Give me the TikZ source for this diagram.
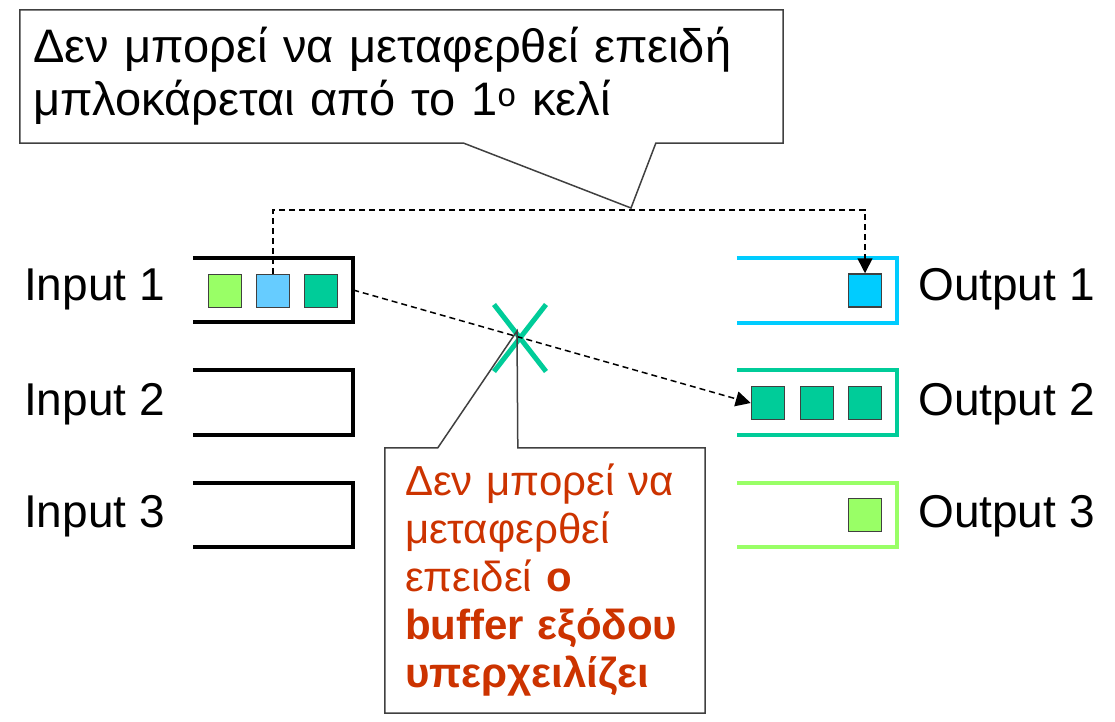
\documentclass[tikz,border=0pt]{standalone}
\usepackage{fontspec}
\setmainfont{Liberation Sans}
\usepackage{tikz}
\usetikzlibrary{arrows.meta,positioning,calc,shapes.misc}
\definecolor{inkgreen}{HTML}{99FF66}
\definecolor{inkblue}{HTML}{66CCFF}
\definecolor{inkteal}{HTML}{00CC99}
\definecolor{inkcyan}{HTML}{00CCFF}
\definecolor{inkred}{HTML}{CC3300}
\definecolor{edgegray}{HTML}{404040}
\newcommand{\rimof}[2]{\draw[rim=#2] (#1.north west) -- (#1.north east) -- (#1.south east) -- (#1.south west);}
\tikzset{
  buf/.style={rectangle, minimum width=160pt, minimum height=64pt, inner sep=0pt},
  rim/.style={line width=4pt, draw=#1},
  cell/.style={rectangle, draw=black!75, line width=1.5pt, fill=#1, minimum size=33pt, inner sep=0pt},
  lbl/.style={inner sep=0pt, font=\fontsize{46}{53}\selectfont},
  noteline/.style={draw=edgegray, line width=1.5pt},
  dasharr/.style={-{Triangle[length=15pt,width=15pt]}, line width=1.5pt, dash pattern=on 6pt off 4pt},
}
\begin{document}
\begin{tikzpicture}[x=1pt,y=-1pt]
  \useasboundingbox (0,0) rectangle (1115,721);
  % buffers
  \node[buf] (in1) at (273,290) {}; \node[buf] (in2) at (273,402.5) {}; \node[buf] (in3) at (273,515) {};
  \node[buf] (out1) at (817,290.5) {}; \node[buf] (out2) at (817,402.5) {}; \node[buf] (out3) at (817,515) {};
  \rimof{in1}{black} \rimof{in2}{black} \rimof{in3}{black}
  \rimof{out1}{inkcyan} \rimof{out2}{inkteal} \rimof{out3}{inkgreen}
  \node[lbl, anchor=base east] (l1) at (165,300) {Input 1};
  \node[lbl, anchor=base east] (l2) at (165,415) {Input 2};
  \node[lbl, anchor=base east] (l3) at (165,527) {Input 3};
  \node[lbl, anchor=base west] (r1) at (918,300) {Output 1};
  \node[lbl, anchor=base west] (r2) at (918,415) {Output 2};
  \node[lbl, anchor=base west] (r3) at (918,527) {Output 3};
  % cells
  \node[cell=inkgreen] (i1a) at (225,291) {}; \node[cell=inkblue] (i1b) at (273,291) {}; \node[cell=inkteal] (i1c) at (321,291) {};
  \node[cell=inkcyan] (o1a) at (865,290.5) {};
  \node[cell=inkteal] (o2a) at (768,403) {}; \node[cell=inkteal] (o2b) at (817,403) {}; \node[cell=inkteal] (o2c) at (865,403) {};
  \node[cell=inkgreen] (o3a) at (865,515) {};
  % blocked cell
  \node[cross out, draw=inkteal, line width=5pt, minimum width=47pt, minimum height=62pt, inner sep=0pt] (cross) at (520,338) {};
  \coordinate (top) at (568,210);
  \draw[dasharr] (i1b.north) |- (top) -| (o1a.north);
  \draw[dasharr] (in1.east) -- (o2a.west);
  % callouts
  \node[lbl, font=\fontsize{47}{53}\selectfont, align=left, text width=737pt, inner xsep=13pt, minimum height=133pt] (note1) at (401.5,76.5)
    {Δεν μπορεί να μεταφερθεί επειδή\\μπλοκάρεται από το 1\textsuperscript{ο} κελί};
  \coordinate (tip1) at (631,208);
  \draw[noteline] (note1.north west) -- (note1.north east) -- (note1.south east) -- ($(note1.south west)+(636,0)$)
    -- (tip1) -- ($(note1.south west)+(444,0)$) -- (note1.south west) -- cycle;
  \node[inner sep=0pt, inner xsep=20pt, align=left, text width=280pt, minimum height=265pt, text=inkred,
        font=\fontsize{42}{48}\selectfont] (note2) at (545,580.5)
    {Δεν μπορεί να\\μεταφερθεί\\επειδεί \textbf{ο}\\\textbf{buffer εξόδου}\\\textbf{υπερχειλίζει}};
  \coordinate (tip2) at (517,331);
  \draw[noteline] (note2.north west) -- ($(note2.north west)+(53,0)$) -- (tip2) -- ($(note2.north west)+(133,0)$)
    -- (note2.north east) -- (note2.south east) -- (note2.south west) -- cycle;
\end{tikzpicture}
\end{document}
